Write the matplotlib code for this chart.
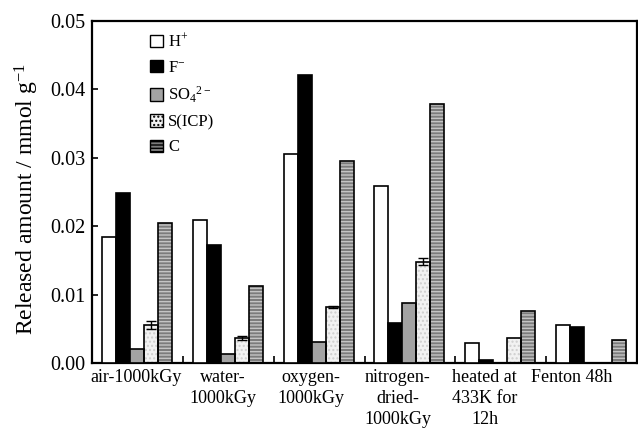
import matplotlib
matplotlib.use("Agg")
import matplotlib.pyplot as plt
import numpy as np
from matplotlib.patches import Patch

plt.rcParams['font.family'] = ['Liberation Serif', 'DejaVu Serif']
plt.rcParams['mathtext.fontset'] = 'custom'
plt.rcParams['mathtext.rm'] = 'Liberation Serif'
plt.rcParams['mathtext.it'] = 'Liberation Serif:italic'
plt.rcParams['hatch.linewidth'] = 1.0

categories = ["air-1000kGy", "water-\n1000kGy", "oxygen-\n1000kGy",
              "nitrogen-\ndried-\n1000kGy", "heated at\n433K for\n12h", "Fenton 48h"]
series_names = ["H$^{+}$", "F$^{-}$", "SO$_{4}$$^{2-}$", "S(ICP)", "C"]
H_plus = [0.0184, 0.0209, 0.0306, 0.0259, 0.0029, 0.0055]
F_minus = [0.0248, 0.0173, 0.0421, 0.0058, 0.0005, 0.0052]
SO4 = [0.0020, 0.0013, 0.0030, 0.0087, 0.0, 0.0]
S_ICP = [0.0055, 0.0037, 0.0082, 0.0148, 0.0037, 0.0]
S_ICP_err = [0.0006, 0.0003, 0.0001, 0.0005, 0.0, 0.0]
C = [0.0205, 0.0113, 0.0295, 0.0378, 0.0076, 0.0033]

fig = plt.figure(figsize=(6.38, 4.33), dpi=100)
ax = fig.add_axes([92/638, 1-363/433, 545/638, (363-20.7)/433])

n = len(categories)
x = np.arange(n)
w = 0.154
start = 0.11
series = [H_plus, F_minus, SO4, S_ICP, C]
faces = ['white', 'black', '#a3a3a3', '#f2f2f2', '#7c7c7c']
hatches = [None, None, None, '....', '-----']
hcols = [None, None, None, '#cfcfcf', '#c4c4c4']

for i, vals in enumerate(series):
    pos = x + start + w * (i + 0.5)
    if hatches[i]:
        ax.bar(pos, vals, width=w, color=faces[i], hatch=hatches[i],
               edgecolor=hcols[i], linewidth=0, zorder=2)
        ax.bar(pos, vals, width=w, fill=False, edgecolor='black', linewidth=1.2, zorder=3)
    else:
        ax.bar(pos, vals, width=w, color=faces[i], edgecolor='black', linewidth=1.2, zorder=3)
    if i == 3:
        m = np.array(S_ICP_err) > 0
        ax.errorbar(pos[m], np.array(vals)[m], yerr=np.array(S_ICP_err)[m], fmt='none',
                    ecolor='black', elinewidth=1.0, capsize=3.5, capthick=1.0, zorder=4)

ax.set_xlim(0, n)
ax.set_ylim(0, 0.05)
ax.set_yticks(np.arange(0, 0.051, 0.01))
ax.set_yticklabels([f"{v:.2f}" for v in np.arange(0, 0.051, 0.01)], fontsize=14.5)
label_pos = 0.485 + 0.96 * np.arange(n)
ax.set_xticks(label_pos)
ax.set_xticklabels(categories, fontsize=13, linespacing=1.32, va='top')
ax.tick_params(axis='x', which='major', length=0, pad=4)
ax.set_xticks(np.arange(1, n), minor=True)
ax.tick_params(axis='x', which='minor', direction='in', length=5, width=1.2)
ax.tick_params(axis='y', direction='in', length=4, width=1.2, pad=5)
for s in ax.spines.values():
    s.set_linewidth(1.6)
ax.set_ylabel("Released amount / mmol g$^{-1}$", fontsize=17, labelpad=6)
ax.yaxis.label.set_y(0.48)

handles = []
for i in range(5):
    if hatches[i]:
        handles.append(Patch(facecolor=faces[i], hatch=hatches[i], edgecolor='black', linewidth=1.0))
    else:
        handles.append(Patch(facecolor=faces[i], edgecolor='black', linewidth=1.0))
ax.legend(handles, series_names, loc='upper left', bbox_to_anchor=(0.095, 0.985),
          frameon=False, fontsize=12, handlelength=0.75, handleheight=0.75,
          handletextpad=0.3, labelspacing=0.55, borderaxespad=0)

fig.savefig("out.png", dpi=100)
